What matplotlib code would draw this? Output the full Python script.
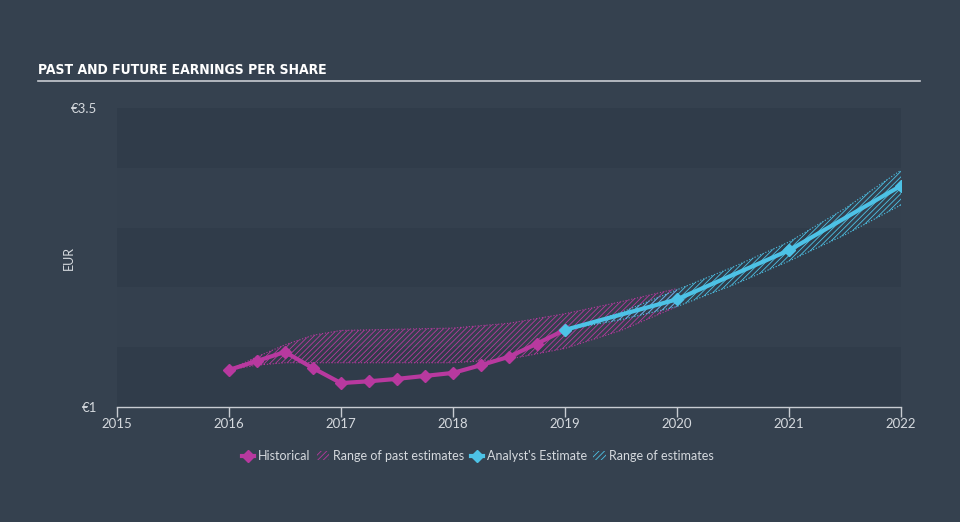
# Past and future earnings per share chart
import matplotlib
matplotlib.use("Agg")
import matplotlib.pyplot as plt
from matplotlib.lines import Line2D
from matplotlib.patches import Patch
from matplotlib import font_manager

# Data
hist_x = [2016.0, 2016.25, 2016.5, 2016.75, 2017.0, 2017.25, 2017.5, 2017.75,
          2018.0, 2018.25, 2018.5, 2018.75, 2019.0]
hist_y = [1.31, 1.385, 1.46, 1.325, 1.20, 1.215, 1.235, 1.26,
          1.285, 1.35, 1.42, 1.53, 1.645]

past_x = [2016.0, 2016.25, 2016.5, 2016.75, 2017.0, 2017.5, 2018.0, 2018.5,
          2019.0, 2019.5, 2020.0]
past_hi = [1.31, 1.42, 1.52, 1.60, 1.64, 1.65, 1.66, 1.70, 1.78, 1.88, 1.99]
past_lo = [1.31, 1.35, 1.37, 1.37, 1.37, 1.37, 1.37, 1.40, 1.49, 1.64, 1.84]

est_x = [2019.0, 2020.0, 2021.0, 2022.0]
est_y = [1.645, 1.90, 2.31, 2.85]

rng_x = [2019.0, 2019.5, 2020.0, 2020.5, 2021.0, 2021.5, 2022.0]
rng_hi = [1.645, 1.79, 1.98, 2.17, 2.38, 2.66, 2.98]
rng_lo = [1.645, 1.73, 1.84, 2.02, 2.22, 2.44, 2.69]

years = [2015, 2016, 2017, 2018, 2019, 2020, 2021, 2022]

bg = "#35414f"
pink = "#b8399f"
blue = "#4dc2e6"
txt = "#d5d9de"

plt.rcParams["hatch.linewidth"] = 0.6
plt.rcParams["font.family"] = ["Lato", "DejaVu Sans"]

fig = plt.figure(figsize=(9.6, 5.22), dpi=100, facecolor=bg)
ax = fig.add_axes([117/960, 1-407/522, 784/960, 299/522])
ax.set_facecolor(bg)
ax.set_xlim(2015, 2022)
ax.set_ylim(1, 3.5)

# background bands
for i, y0 in enumerate([1.0, 1.5, 2.0, 2.5, 3.0]):
    c = "#303c4a" if i % 2 == 0 else "#34404e"
    ax.axhspan(y0, y0 + 0.5, color=c, lw=0, zorder=0)

# ranges
ax.fill_between(past_x, past_lo, past_hi, facecolor="none", edgecolor=pink,
                hatch="//////", lw=0, zorder=2)
ax.plot(past_x, past_hi, color=pink, lw=0.8, ls=":", zorder=2)
ax.plot(past_x, past_lo, color=pink, lw=0.8, ls=":", zorder=2)
ax.fill_between(rng_x, rng_lo, rng_hi, facecolor="none", edgecolor=blue,
                hatch="//////", lw=0, zorder=2)
ax.plot(rng_x, rng_hi, color=blue, lw=0.8, ls=":", zorder=2)
ax.plot(rng_x, rng_lo, color=blue, lw=0.8, ls=":", zorder=2)

# lines
ax.plot(hist_x, hist_y, color=pink, lw=3, marker="D", ms=6.5, zorder=4)
ax.plot(est_x, est_y, color=blue, lw=3, marker="D", ms=6.5, zorder=5)

# axes
for s in ["top", "right", "left"]:
    ax.spines[s].set_visible(False)
ax.spines["bottom"].set_color("#c8ccd2")
ax.spines["bottom"].set_linewidth(1)
ax.set_xticks(years)
ax.set_xticklabels([str(y) for y in years])
ax.tick_params(axis="x", colors="#c8ccd2", labelcolor=txt, length=7, width=1,
               labelsize=9.5, pad=1)
ax.set_yticks([1, 3.5])
ax.set_yticklabels(["€1", "€3.5"])
ax.tick_params(axis="y", length=0, labelcolor=txt, labelsize=9.5, pad=14)
ax.set_ylabel("EUR", color=txt, fontsize=9)
ax.yaxis.set_label_coords(-42/784, 0.5)

# title
names = {f.name for f in font_manager.fontManager.ttflist}
if "Liberation Sans Narrow" in names:
    tfont = dict(family="Liberation Sans Narrow", fontsize=12.5)
else:
    tfont = dict(family="DejaVu Sans", fontstretch="condensed", fontsize=10)
fig.text(38/960, 1-74/522, "PAST AND FUTURE EARNINGS PER SHARE", color="white",
         fontweight="bold", va="baseline", **tfont)
fig.add_artist(Line2D([38/960, 920/960], [1-81/522, 1-81/522], color="#c8ccd2", lw=1.2))

# legend
handles = [
    Line2D([], [], color=pink, lw=3, marker="D", ms=6),
    Patch(facecolor="none", edgecolor=pink, hatch="//////", lw=0),
    Line2D([], [], color=blue, lw=3, marker="D", ms=6),
    Patch(facecolor="none", edgecolor=blue, hatch="//////", lw=0),
]
labels = ["Historical", "Range of past estimates", "Analyst's Estimate", "Range of estimates"]
leg = fig.legend(handles, labels, loc="center", bbox_to_anchor=(478/960, 1-456/522),
                 ncol=4, frameon=False, fontsize=9, labelcolor=txt,
                 handlelength=1.0, handletextpad=0.3, columnspacing=0.5)

plt.savefig("out.png", facecolor=bg)
